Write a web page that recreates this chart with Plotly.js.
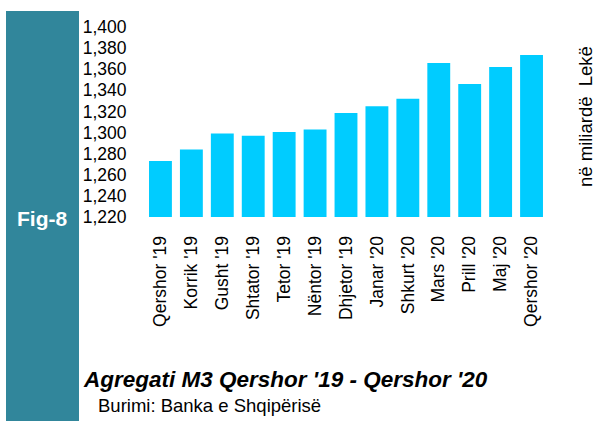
<!DOCTYPE html>
<html>
<head>
<meta charset="utf-8">
<script src="https://cdn.plot.ly/plotly-3.0.1.min.js"></script>
<style>html,body{margin:0;padding:0;background:#fff;}#chart{width:596px;height:421px;}</style>
</head>
<body>
<div id="chart"></div>
<script>
const categories = ["Qershor '19","Korrik '19","Gusht '19","Shtator '19","Tetor '19","Nëntor '19","Dhjetor '19","Janar '20","Shkurt '20","Mars '20","Prill '20","Maj '20","Qershor '20"];
const values = [1273, 1284, 1299, 1297, 1300.5, 1303, 1318.5, 1325, 1332, 1366, 1346, 1362, 1373.5];
const yTicks = [1220,1240,1260,1280,1300,1320,1340,1360,1380,1400];
const yTickLabels = ["1,220","1,240","1,260","1,280","1,300","1,320","1,340","1,360","1,380","1,400"];
const titleText = "Agregati M3 Qershor '19 - Qershor '20";
const sourceText = "Burimi: Banka e Shqipërisë";
const unitText = "në miliardë  Lekë";
const figText = "Fig-8";

const W = 596, H = 421;
const L = 145, R = 49, T = 27, B = 204;
const pw = W - L - R, ph = H - T - B;
const px = x => (x - L) / pw;
const py = y => (H - B - y) / ph;

const FONT = "Liberation Sans, Arial, sans-serif";

const trace = {
  type: 'bar',
  x: categories,
  y: values,
  marker: {color: '#00CCFF'},
  hoverinfo: 'x+y'
};

const layout = {
  width: W, height: H,
  margin: {l: L, r: R, t: T, b: B, pad: 0},
  paper_bgcolor: '#fff',
  plot_bgcolor: '#fff',
  showlegend: false,
  bargap: 0.26,
  font: {family: FONT, color: '#000'},
  xaxis: {
    type: 'category',
    tickangle: -90,
    tickfont: {size: 17.5, family: FONT, color: '#000'},
    ticks: 'outside', ticklen: 11, tickcolor: 'rgba(0,0,0,0)',
    showline: false, showgrid: false, zeroline: false
  },
  yaxis: {
    range: [1220, 1400],
    tickvals: yTicks,
    ticktext: yTickLabels,
    tickfont: {size: 17.5, family: FONT, color: '#000'},
    ticks: 'outside', ticklen: 14, tickcolor: 'rgba(0,0,0,0)',
    showline: false, showgrid: false, zeroline: false
  },
  shapes: [{
    type: 'rect', xref: 'paper', yref: 'paper', layer: 'below',
    x0: px(6), x1: px(79), y0: py(421), y1: py(11),
    fillcolor: '#31869B', line: {width: 0}
  }],
  annotations: [
    {text: '<b>' + figText + '</b>', xref: 'paper', yref: 'paper', x: px(42), y: py(218),
     xanchor: 'center', yanchor: 'middle', showarrow: false,
     font: {size: 21, color: '#fff', family: FONT}},
    {text: '<b><i>' + titleText + '</i></b>', xref: 'paper', yref: 'paper', x: px(81), y: py(379),
     xanchor: 'left', yanchor: 'middle', showarrow: false,
     font: {size: 22.5, color: '#000', family: FONT}},
    {text: sourceText, xref: 'paper', yref: 'paper', x: px(96), y: py(405),
     xanchor: 'left', yanchor: 'middle', showarrow: false,
     font: {size: 18.5, color: '#000', family: FONT}},
    {text: unitText, xref: 'paper', yref: 'paper', x: px(585), y: py(117),
     xanchor: 'center', yanchor: 'middle', textangle: -90, showarrow: false,
     font: {size: 18.5, color: '#000', family: FONT}}
  ]
};

Plotly.newPlot('chart', [trace], layout, {staticPlot: true, displayModeBar: false});
</script>
</body>
</html>
